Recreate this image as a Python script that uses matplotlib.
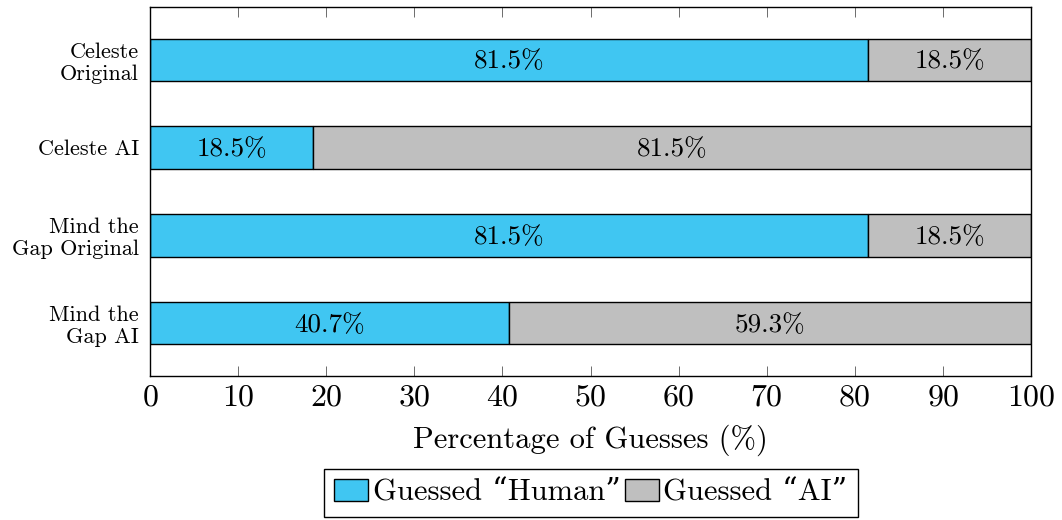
import matplotlib
matplotlib.use("Agg")
import matplotlib.pyplot as plt
from matplotlib.patches import Patch

plt.rcParams['font.family'] = ['cmr10', 'DejaVu Serif']
plt.rcParams['axes.formatter.use_mathtext'] = True

# data
categories = ["Celeste\nOriginal", "Celeste AI", "Mind the\nGap Original", "Mind the\nGap AI"]
human = [81.5, 18.5, 81.5, 40.7]
ai = [18.5, 81.5, 18.5, 59.3]
series_names = ["Guessed \u201cHuman\u201d", "Guessed \u201cAI\u201d"]

c_human = "#40c6f2"
c_ai = "#bfbfbf"

fig = plt.figure(figsize=(10.62, 5.2), dpi=100)
ax = fig.add_axes([150 / 1062, 1 - 376 / 520, 881 / 1062, 369 / 520])

ypos = list(range(len(categories)))
bh = 0.48
ax.barh(ypos, human, height=bh, color=c_human, edgecolor="black", linewidth=1.0)
ax.barh(ypos, ai, left=human, height=bh, color=c_ai, edgecolor="black", linewidth=1.0)

for y, h, a in zip(ypos, human, ai):
    ax.text(h / 2, y + 0.02, f"{h:.1f}%", ha="center", va="center", fontsize=19.5)
    ax.text(h + a / 2, y + 0.02, f"{a:.1f}%", ha="center", va="center", fontsize=19.5)

ax.set_xlim(0, 100)
ax.set_ylim(3.6, -0.6)
ax.set_xticks(range(0, 101, 10))
ax.set_yticks(ypos)
ax.set_yticklabels(categories, fontsize=16, linespacing=1.15)
ax.tick_params(axis="x", direction="in", top=True, length=7, width=0.6,
               labelsize=23, pad=6, color="#555555")
ax.tick_params(axis="y", length=0, pad=8)
for s in ax.spines.values():
    s.set_linewidth(1.0)

ax.set_xlabel("Percentage of Guesses (%)", fontsize=22, labelpad=9)

handles = [Patch(facecolor=c_human, edgecolor="black"), Patch(facecolor=c_ai, edgecolor="black")]
fig.legend(handles, series_names, loc="center", bbox_to_anchor=(591 / 1062, 1 - 493 / 520),
           ncol=2, fontsize=22, frameon=True, fancybox=False, edgecolor="black",
           handlelength=1.1, handleheight=0.7, handletextpad=0.15, columnspacing=0.15,
           borderpad=0.33, framealpha=1)

fig.savefig("out.png", dpi=100)
